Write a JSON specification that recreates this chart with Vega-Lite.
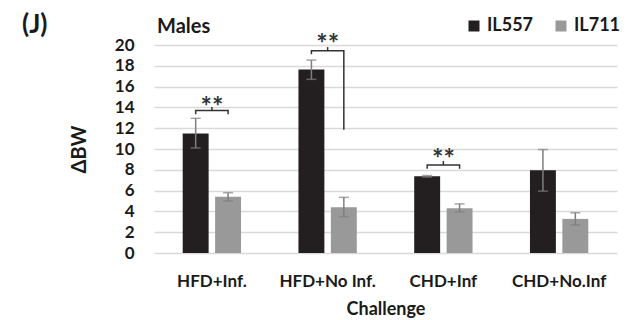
{
  "$schema": "https://vega.github.io/schema/vega-lite/v6.json",
  "width": 463,
  "height": 208,
  "autosize": {"type": "none"},
  "padding": {"left": 154, "top": 45, "right": 12, "bottom": 67},
  "config": {
    "font": "Lato",
    "view": {"stroke": null},
    "axis": {"labelFont": "Lato", "titleFont": "Lato", "labelColor": "#1a1a1a", "titleColor": "#1a1a1a"},
    "axisY": {"grid": true, "gridColor": "#d9d9d9", "gridWidth": 1.5, "domain": false, "ticks": false, "labelFontSize": 17, "labelFontWeight": "bold", "labelPadding": 20, "titleFontSize": 20, "titleFontWeight": "bold", "titlePadding": 25}
  },
  "title": {"text": "Males", "anchor": "start", "frame": "group", "fontSize": 20, "fontWeight": "bold", "color": "#1a1a1a", "font": "Lato", "offset": -25, "dx": 3},
  "datasets": {
    "bars": [
      {"challenge": "HFD+Inf.", "strain": "IL557", "mean": 11.5, "lo": 10.1, "hi": 12.95},
      {"challenge": "HFD+Inf.", "strain": "IL711", "mean": 5.4, "lo": 5.0, "hi": 5.8},
      {"challenge": "HFD+No Inf.", "strain": "IL557", "mean": 17.65, "lo": 16.7, "hi": 18.55},
      {"challenge": "HFD+No Inf.", "strain": "IL711", "mean": 4.4, "lo": 3.5, "hi": 5.35},
      {"challenge": "CHD+Inf", "strain": "IL557", "mean": 7.37, "lo": 7.3, "hi": 7.45},
      {"challenge": "CHD+Inf", "strain": "IL711", "mean": 4.3, "lo": 3.95, "hi": 4.72},
      {"challenge": "CHD+No.Inf", "strain": "IL557", "mean": 7.95, "lo": 5.95, "hi": 9.95},
      {"challenge": "CHD+No.Inf", "strain": "IL711", "mean": 3.28, "lo": 2.7, "hi": 3.87}
    ],
    "brackets": [
      {"challenge": "HFD+Inf.", "strain": "IL557", "y": 13.35, "ord": 1},
      {"challenge": "HFD+Inf.", "strain": "IL557", "y": 13.7, "ord": 2},
      {"challenge": "HFD+Inf.", "strain": "IL711", "y": 13.7, "ord": 3},
      {"challenge": "HFD+Inf.", "strain": "IL711", "y": 13.35, "ord": 4},
      {"challenge": "HFD+No Inf.", "strain": "IL557", "y": 19.1, "ord": 1},
      {"challenge": "HFD+No Inf.", "strain": "IL557", "y": 19.45, "ord": 2},
      {"challenge": "HFD+No Inf.", "strain": "IL711", "y": 19.45, "ord": 3},
      {"challenge": "HFD+No Inf.", "strain": "IL711", "y": 11.85, "ord": 4},
      {"challenge": "CHD+Inf", "strain": "IL557", "y": 8.1, "ord": 1},
      {"challenge": "CHD+Inf", "strain": "IL557", "y": 8.45, "ord": 2},
      {"challenge": "CHD+Inf", "strain": "IL711", "y": 8.45, "ord": 3},
      {"challenge": "CHD+Inf", "strain": "IL711", "y": 8.1, "ord": 4}
    ],
    "sig": [
      {"challenge": "HFD+Inf.", "y": 13.7, "y2": 14.05, "star": 13.2, "label": "**"},
      {"challenge": "HFD+No Inf.", "y": 19.45, "y2": 19.8, "star": 19.2, "label": "**"},
      {"challenge": "CHD+Inf", "y": 8.45, "y2": 8.85, "star": 8.2, "label": "**"}
    ],
    "panel": [{"label": "(J)"}]
  },
  "encoding": {
    "x": {
      "field": "challenge", "type": "nominal",
      "sort": ["HFD+Inf.", "HFD+No Inf.", "CHD+Inf", "CHD+No.Inf"],
      "scale": {"paddingInner": 0.496, "paddingOuter": 0.248},
      "axis": {"title": "Challenge", "labelAngle": 0, "domain": false, "ticks": false, "labelFontSize": 17, "labelFontWeight": "bold", "labelPadding": 20, "titleFontSize": 18, "titleFontWeight": "bold", "titlePadding": 11}
    },
    "y": {
      "type": "quantitative",
      "scale": {"domain": [0, 20], "nice": false, "zero": true},
      "axis": {"title": "ΔBW", "values": [0, 2, 4, 6, 8, 10, 12, 14, 16, 18, 20], "labelOverlap": false, "labelBound": false, "labelFlush": false}
    }
  },
  "layer": [
    {
      "data": {"name": "bars"},
      "mark": {"type": "bar"},
      "encoding": {
        "xOffset": {"field": "strain", "type": "nominal", "scale": {"paddingInner": 0.2, "paddingOuter": 0}},
        "y": {"field": "mean"},
        "color": {
          "field": "strain", "type": "nominal",
          "scale": {"domain": ["IL557", "IL711"], "range": ["#231f20", "#999999"]},
          "legend": {"orient": "none", "legendX": 311, "legendY": -28, "direction": "horizontal", "title": null, "symbolType": "square", "symbolSize": 121, "symbolStrokeWidth": 0, "labelFontSize": 18, "labelFontWeight": "bold", "labelColor": "#1a1a1a", "columnPadding": 18, "labelOffset": 4}
        }
      }
    },
    {
      "data": {"name": "bars"},
      "mark": {"type": "rule", "color": "#7f7f7f", "strokeWidth": 1.5},
      "encoding": {
        "xOffset": {"field": "strain", "type": "nominal"},
        "y": {"field": "lo"},
        "y2": {"field": "hi"}
      }
    },
    {
      "data": {"name": "bars"},
      "mark": {"type": "tick", "color": "#7f7f7f", "thickness": 1.5, "size": 10},
      "encoding": {
        "xOffset": {"field": "strain", "type": "nominal"},
        "y": {"field": "lo"}
      }
    },
    {
      "data": {"name": "bars"},
      "mark": {"type": "tick", "color": "#7f7f7f", "thickness": 1.5, "size": 10},
      "encoding": {
        "xOffset": {"field": "strain", "type": "nominal"},
        "y": {"field": "hi"}
      }
    },
    {
      "data": {"name": "brackets"},
      "mark": {"type": "line", "color": "#333333", "strokeWidth": 1.5},
      "encoding": {
        "xOffset": {"field": "strain", "type": "nominal"},
        "y": {"field": "y"},
        "detail": {"field": "challenge"},
        "order": {"field": "ord", "type": "quantitative"}
      }
    },
    {
      "data": {"name": "sig"},
      "mark": {"type": "rule", "color": "#333333", "strokeWidth": 1.5},
      "encoding": {
        "y": {"field": "y"},
        "y2": {"field": "y2"}
      }
    },
    {
      "data": {"name": "sig"},
      "mark": {"type": "text", "fontSize": 27, "fontWeight": "bold", "color": "#333333", "baseline": "alphabetic", "font": "Lato"},
      "encoding": {
        "y": {"field": "star"},
        "text": {"field": "label"}
      }
    },
    {
      "data": {"name": "panel"},
      "mark": {"type": "text", "fontSize": 26, "fontWeight": "bold", "color": "#1a1a1a", "align": "left", "baseline": "alphabetic", "font": "Lato"},
      "encoding": {
        "x": {"value": -132},
        "y": {"value": -12},
        "text": {"field": "label"}
      }
    }
  ]
}
